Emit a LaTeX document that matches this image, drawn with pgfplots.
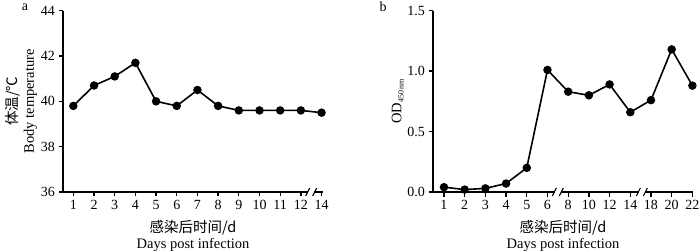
\documentclass[border=0pt]{standalone}
\usepackage{fontspec}
\usepackage{pgfplots}
\pgfplotsset{compat=1.18}
\setmainfont{Liberation Serif}
\newfontfamily\cjk{Noto Sans CJK SC}

\pgfplotsset{
  mystyle/.style={
    scale only axis,
    width=260pt, height=181.3pt,
    axis lines*=left,
    axis line style={line width=1.5pt, -},
    every tick/.style={line width=1.3pt, black},
    tick align=outside,
    major tick length=4.5pt,
    xtick pos=bottom, ytick pos=left,
    /pgf/number format/assume math mode=true,
    tick label style={font=\fontsize{14}{16}\selectfont},
    label style={font=\fontsize{14.5}{16}\selectfont, align=center},
    xlabel style={yshift=-4pt},
    ylabel style={yshift=-3pt},
    xtick={0,...,12},
    clip=false,
  },
  myline/.style={black, line width=1.6pt, mark=*, mark size=3.4pt, mark options={solid, fill=black}},
}
\newcommand{\axbreak}[2]{%
  \path (axis cs:#1,#2) coordinate (bk);
  \fill[white] ([shift={(-3pt,-1.6pt)}]bk) rectangle ([shift={(3pt,1.6pt)}]bk);
  \draw[line width=1.1pt] ([shift={(-5.5pt,-4pt)}]bk) -- ([shift={(-1.5pt,4pt)}]bk);
  \draw[line width=1.1pt] ([shift={(1.5pt,-4pt)}]bk) -- ([shift={(5.5pt,4pt)}]bk);
}

\pgfplotstableread{
x y
0 39.8
1 40.7
2 41.1
3 41.7
4 40.0
5 39.8
6 40.5
7 39.8
8 39.6
9 39.6
10 39.6
11 39.6
12 39.5
}\tempdata

\pgfplotstableread{
x y
0 0.04
1 0.02
2 0.03
3 0.07
4 0.20
5 1.01
6 0.83
7 0.80
8 0.89
9 0.66
10 0.76
11 1.18
12 0.88
}\oddata

\begin{document}
\begin{tikzpicture}
\path[use as bounding box] (0,0) rectangle (700pt,251pt);

\begin{axis}[mystyle,
  at={(63pt,59pt)}, anchor=south west,
  xmin=-0.5, xmax=12.07,
  ymin=36, ymax=44, ytick={36,38,40,42,44},
  xticklabels={1,2,3,4,5,6,7,8,9,10,11,12,14},
  xlabel={{\cjk 感染后时间/d}\\Days post infection},
  ylabel={{\cjk 体温/℃}\\Body temperature},
  after end axis/.code={\axbreak{11.5}{36}},
]
\addplot[myline] table[x=x,y=y] {\tempdata};
\end{axis}

\begin{axis}[mystyle,
  at={(433pt,59pt)}, anchor=south west,
  xmin=-0.53, xmax=12.03,
  ymin=0, ymax=1.5, ytick={0,0.5,1.0,1.5},
  yticklabel style={/pgf/number format/.cd, fixed, fixed zerofill, precision=1},
  xticklabels={1,2,3,4,5,6,8,10,12,14,18,20,22},
  xlabel={{\cjk 感染后时间/d}\\Days post infection},
  ylabel={OD\textsubscript{\fontsize{8}{9}\selectfont 450\,nm}},
  after end axis/.code={\axbreak{5.5}{0}\axbreak{9.56}{0}},
]
\addplot[myline] table[x=x,y=y] {\oddata};
\end{axis}

\node[font=\fontsize{14}{15}\selectfont] at (25pt,244pt) {a};
\node[font=\fontsize{14}{15}\selectfont] at (383pt,244pt) {b};
\end{tikzpicture}
\end{document}
